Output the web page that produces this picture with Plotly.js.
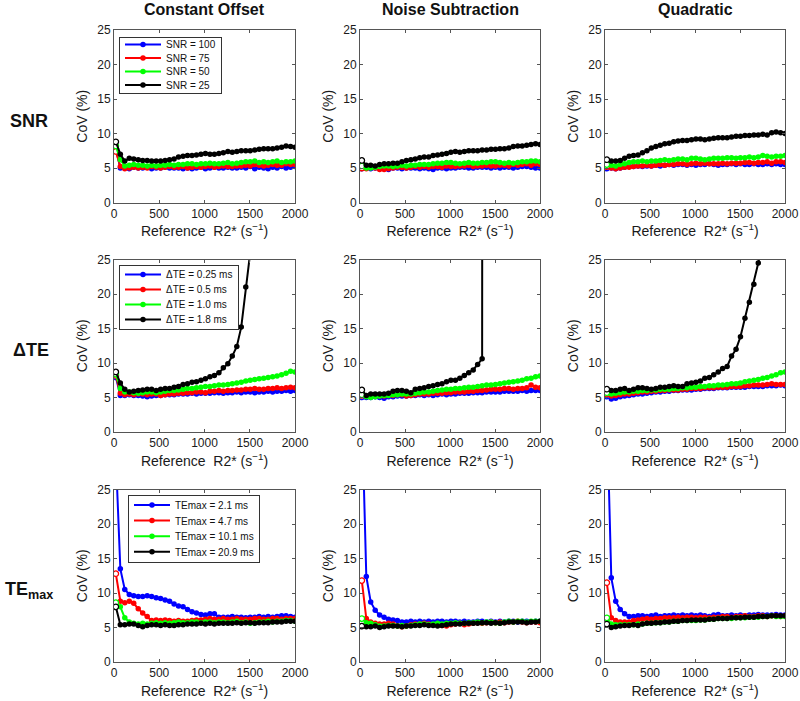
<!DOCTYPE html>
<html>
<head>
<meta charset="utf-8">
<script src="https://cdn.plot.ly/plotly-3.0.1.min.js"></script>
<style>html,body{margin:0;padding:0;background:#fff;}#chart{width:800px;height:701px;}</style>
</head>
<body>
<div id="chart"></div>
<script>
// Reference R2* sampling grid (s^-1)
const R2 = [20,70,119,169,218,268,317,367,416,466,515,565,614,664,713,763,812,862,911,961,1010,1060,1109,1159,1208,1258,1307,1357,1406,1456,1505,1555,1604,1654,1703,1753,1802,1852,1901,1951,2000];

const columnTitles = ['Constant Offset', 'Noise Subtraction', 'Quadratic'];
const rowLabels = ['SNR', '\u0394TE', 'TE<sub>max</sub>'];
const snrNames = ['SNR = 100', 'SNR = 75', 'SNR = 50', 'SNR = 25'];
const dteNames = ['\u0394TE = 0.25 ms', '\u0394TE = 0.5 ms', '\u0394TE = 1.0 ms', '\u0394TE = 1.8 ms'];
const teNames = ['TEmax = 2.1 ms', 'TEmax = 4.7 ms', 'TEmax = 10.1 ms', 'TEmax = 20.9 ms'];
const xTicks = [0, 500, 1000, 1500, 2000];
const yTicks = [0, 5, 10, 15, 20, 25];

// Row 1: SNR
const co_snr100 = [7.8,5.0,5.0,4.9,5.1,5.0,5.0,5.1,4.9,5.0, 5.0,5.1,5.0,5.0,5.0,4.9,5.0,4.9,5.0,5.1, 4.9,5.0,5.1,5.0,5.0,5.1,5.0,5.0,5.1,5.0, 5.2,4.9,5.1,5.0,4.9,5.1,5.0,5.2,5.0,5.1, 5.2];
const co_snr75 = [7.4,5.2,4.9,5.0,5.1,5.0,5.1,5.0,5.2,5.1, 5.0,5.1,5.2,5.1,5.1,5.2,5.0,5.1,5.2,5.1, 5.2,5.3,5.1,5.2,5.3,5.2,5.2,5.3,5.3,5.4, 5.3,5.5,5.4,5.3,5.4,5.5,5.4,5.4,5.6,5.5, 5.5];
const co_snr50 = [8.2,6.2,5.3,5.4,5.5,5.4,5.4,5.3,5.4,5.3, 5.4,5.4,5.5,5.4,5.5,5.5,5.6,5.6,5.5,5.6, 5.6,5.7,5.6,5.6,5.7,5.8,5.6,5.7,5.8,5.9, 5.9,6.0,5.8,5.9,5.8,5.9,6.0,5.8,5.9,5.9, 6.0];
const co_snr25 = [8.8,7.0,6.0,6.4,6.3,6.2,6.1,6.1,6.0,6.0, 6.0,6.1,6.2,6.3,6.6,6.7,6.8,6.8,6.9,7.0, 7.1,7.0,7.0,7.1,7.2,7.4,7.3,7.4,7.5,7.5, 7.5,7.6,7.7,7.8,7.8,7.8,7.9,8.0,8.2,8.1, 8.0];

const ns_snr100 = [5.0,5.0,4.9,5.0,5.0,4.9,4.8,5.0,5.0,4.9, 5.0,5.0,5.0,4.9,5.0,4.9,4.8,5.0,5.0,4.9, 5.0,5.0,5.1,5.1,5.0,5.0,5.1,5.1,5.1,5.0, 5.1,5.0,5.1,5.1,5.0,5.1,5.2,5.2,5.1,5.0, 5.0];
const ns_snr75 = [5.0,4.9,5.1,5.0,4.8,4.8,4.9,5.0,5.1,5.1, 5.0,5.1,5.2,5.1,5.2,5.1,5.2,5.2,5.1,5.3, 5.2,5.2,5.3,5.3,5.4,5.2,5.3,5.3,5.4,5.3, 5.3,5.4,5.4,5.3,5.5,5.4,5.5,5.6,5.4,5.6, 5.5];
const ns_snr50 = [5.3,5.0,5.0,5.1,5.2,5.3,5.3,5.2,5.3,5.4, 5.3,5.4,5.4,5.5,5.5,5.5,5.6,5.7,5.7,5.8, 5.8,5.7,5.6,5.7,5.8,5.7,5.7,5.8,5.8,5.9, 5.9,5.8,5.7,5.8,5.7,5.8,5.9,5.9,6.0,6.0, 5.9];
const ns_snr25 = [6.1,5.4,5.4,5.3,5.5,5.6,5.6,5.7,5.7,5.9, 6.1,6.2,6.3,6.5,6.6,6.6,6.8,6.9,7.0,7.1, 7.3,7.4,7.3,7.4,7.5,7.5,7.5,7.6,7.6,7.7, 7.7,7.8,7.8,7.9,8.1,8.2,8.2,8.3,8.4,8.5, 8.4];

const qd_snr100 = [5.0,5.0,4.9,5.0,5.1,5.2,5.2,5.3,5.2,5.3, 5.3,5.4,5.3,5.4,5.5,5.4,5.5,5.5,5.4,5.5, 5.4,5.5,5.5,5.6,5.5,5.4,5.5,5.5,5.6,5.5, 5.6,5.5,5.5,5.6,5.5,5.5,5.6,5.5,5.6,5.5, 5.5];
const qd_snr75 = [5.2,5.0,4.9,5.0,5.1,5.1,5.2,5.3,5.3,5.4, 5.3,5.4,5.5,5.4,5.5,5.5,5.6,5.6,5.5,5.6, 5.7,5.6,5.7,5.6,5.6,5.6,5.7,5.6,5.7,5.7, 5.7,5.8,5.8,5.7,5.8,5.8,5.9,5.7,5.9,5.9, 5.8];
const qd_snr50 = [5.5,5.4,5.3,5.5,5.6,5.8,5.9,5.9,6.0,5.9, 6.0,6.0,6.1,6.2,6.1,6.2,6.3,6.3,6.2,6.4, 6.4,6.3,6.2,6.3,6.4,6.4,6.4,6.5,6.5,6.4, 6.5,6.5,6.6,6.5,6.6,6.8,6.7,6.6,6.7,6.7, 6.8];
const qd_snr25 = [6.2,6.0,6.0,6.1,6.4,6.7,6.8,6.9,7.2,7.5, 7.9,8.1,8.3,8.5,8.6,8.8,8.9,9.0,9.0,9.1, 9.2,9.2,9.1,9.2,9.3,9.4,9.4,9.4,9.5,9.6, 9.6,9.7,9.7,9.8,9.8,9.9,9.8,10.1,10.2,10.1, 10.0];

// Row 2: delta TE
const co_dte025 = [8.0,5.3,5.3,5.4,5.3,5.3,5.2,5.1,5.2,5.3, 5.3,5.4,5.4,5.4,5.5,5.5,5.5,5.6,5.5,5.6, 5.6,5.6,5.7,5.7,5.6,5.7,5.7,5.8,5.7,5.8, 5.8,5.7,5.8,5.8,5.9,5.8,5.9,5.9,6.0,5.9, 6.0];
const co_dte05 = [8.2,5.6,5.4,5.5,5.4,5.5,5.5,5.4,5.5,5.5, 5.3,5.4,5.5,5.5,5.6,5.6,5.7,5.7,5.8,5.8, 5.7,5.9,5.9,6.0,5.9,6.0,6.0,6.1,6.1,6.2, 6.2,6.3,6.2,6.2,6.3,6.3,6.4,6.3,6.4,6.5, 6.4];
const co_dte10 = [8.4,6.3,5.8,5.8,5.7,5.6,5.7,5.8,5.8,5.7, 5.8,5.9,6.0,6.0,6.1,6.2,6.3,6.3,6.4,6.5, 6.6,6.6,6.7,6.8,6.8,6.9,7.0,7.1,7.2,7.4, 7.5,7.6,7.7,7.8,7.9,8.0,8.1,8.3,8.5,8.8, 8.7];
const co_dte18 = [8.7,7.1,6.2,5.8,5.9,6.0,6.1,6.2,6.2,6.0, 6.2,6.3,6.3,6.5,6.6,6.9,7.0,7.2,7.3,7.5, 7.7,8.0,8.2,8.6,9.3,9.9,11.0,12.4,15.2,21.0, 26.0,null,null,null,null,null,null,null,null,null, null];

const ns_dte025 = [5.1,5.0,5.0,5.1,5.0,4.9,5.1,5.1,5.2,5.2, 5.2,5.3,5.3,5.4,5.3,5.4,5.3,5.4,5.5,5.4, 5.5,5.5,5.6,5.6,5.6,5.7,5.7,5.7,5.8,5.8, 5.8,5.8,5.9,5.9,5.9,5.9,6.0,5.9,6.0,6.0, 6.0];
const ns_dte05 = [5.3,5.2,5.3,5.3,5.2,5.2,5.3,5.3,5.4,5.4, 5.2,5.3,5.4,5.5,5.5,5.5,5.6,5.6,5.6,5.7, 5.7,5.8,5.8,5.8,5.9,5.9,6.0,6.0,6.1,6.2, 6.2,6.2,6.3,6.3,6.2,6.3,6.3,6.4,6.8,6.5, 6.4];
const ns_dte10 = [5.4,5.1,5.0,5.1,5.2,5.3,5.3,5.4,5.4,5.5, 5.5,5.5,5.6,5.7,5.8,5.8,5.9,6.0,6.1,6.2, 6.2,6.3,6.3,6.4,6.5,6.5,6.6,6.7,6.8,6.8, 6.9,7.0,7.1,7.2,7.3,7.4,7.5,7.7,7.8,8.0, 8.1];
const ns_dte18 = [6.1,5.3,5.5,5.5,5.5,5.5,5.6,5.9,6.0,6.0, 5.9,5.7,6.2,6.3,6.4,6.6,6.7,6.9,7.0,7.3, 7.5,7.5,7.8,8.2,8.6,9.0,9.8,10.6,1000,null, null,null,null,null,null,null,null,null,null,null, null];

const qd_dte025 = [5.2,4.8,4.9,5.1,5.2,5.3,5.4,5.5,5.5,5.6, 5.7,5.8,5.8,5.9,5.9,6.0,6.0,6.1,6.1,6.1, 6.2,6.2,6.3,6.3,6.3,6.4,6.4,6.4,6.5,6.5, 6.5,6.5,6.6,6.6,6.6,6.6,6.7,6.7,6.7,6.8, 6.7];
const qd_dte05 = [5.5,5.2,5.3,5.4,5.5,5.5,5.6,5.7,5.8,5.8, 5.9,5.9,6.0,6.0,6.1,6.1,6.1,6.2,6.2,6.3, 6.3,6.3,6.4,6.4,6.4,6.5,6.5,6.5,6.6,6.6, 6.6,6.7,6.7,6.8,6.8,6.8,6.9,7.0,6.9,6.9, 6.9];
const qd_dte10 = [5.7,5.5,5.6,5.7,5.8,5.8,5.9,5.9,6.0,6.0, 6.1,6.1,6.2,6.2,6.2,6.3,6.3,6.4,6.4,6.5, 6.5,6.6,6.6,6.7,6.7,6.8,6.8,6.9,7.0,7.0, 7.1,7.3,7.4,7.5,7.6,7.8,7.9,8.1,8.3,8.6, 8.7];
const qd_dte18 = [6.2,6.0,6.0,6.2,6.3,6.0,6.2,6.4,6.4,6.3, 6.2,6.3,6.5,6.5,6.6,6.7,6.6,6.6,7.0,7.1, 7.2,7.4,7.8,7.9,8.3,8.7,9.2,9.5,11.0,12.0, 13.8,16.5,18.8,21.4,24.5,28.0,null,null,null,null, null];

// Row 3: TEmax
const co_te21 = [30,13.5,10.5,9.8,9.6,9.5,9.5,9.6,9.5,9.3, 9.2,9.0,8.8,8.4,8.1,8.0,7.6,7.3,7.1,6.9, 6.8,7.0,7.0,6.5,6.5,6.5,6.6,6.5,6.5,6.4, 6.5,6.5,6.6,6.5,6.6,6.5,6.6,6.7,6.7,6.6, 6.5];
const co_te47 = [12.8,8.8,8.6,8.8,8.5,7.7,7.1,6.6,6.0,6.1, 6.0,6.1,6.0,5.9,6.0,5.9,5.9,6.0,6.1,6.1, 6.2,6.3,6.2,6.2,6.3,6.2,6.2,6.3,6.2,6.2, 6.2,6.3,6.3,6.2,6.2,6.3,6.3,6.2,6.3,6.3, 6.3];
const co_te101 = [8.6,8.0,6.4,5.8,5.6,5.5,5.6,5.5,5.6,5.7, 5.6,5.7,5.6,5.7,5.8,5.7,5.7,5.8,5.8,5.7, 5.8,5.8,5.7,5.8,5.8,5.7,5.8,5.9,5.7,5.8, 5.6,5.7,5.8,5.8,5.9,5.8,5.9,5.9,6.0,6.0, 5.9];
const co_te209 = [8.0,5.4,5.4,5.5,5.5,5.3,5.1,5.3,5.4,5.4, 5.3,5.4,5.3,5.3,5.4,5.4,5.5,5.5,5.5,5.6, 5.5,5.6,5.5,5.6,5.6,5.6,5.6,5.7,5.6,5.7, 5.7,5.6,5.7,5.7,5.7,5.8,5.8,5.8,5.9,5.9, 5.9];

const ns_te21 = [37,12.4,8.7,7.5,6.8,6.5,6.2,6.1,6.0,5.8, 5.8,5.9,5.8,5.9,5.8,5.9,5.8,5.9,5.9,5.8, 5.9,5.9,5.8,5.9,5.8,5.8,5.9,5.9,5.8,5.9, 5.8,5.9,5.8,5.9,5.9,5.8,5.9,5.9,5.8,5.9, 5.9];
const ns_te47 = [11.8,6.3,5.8,5.6,5.5,5.5,5.6,5.5,5.2,5.1, 5.2,5.4,5.5,5.5,5.6,5.5,5.4,5.5,5.3,5.2, 5.4,5.5,5.6,5.4,5.5,5.6,5.7,5.6,5.7,5.8, 5.7,5.8,5.7,5.8,5.8,5.9,5.8,5.7,5.8,5.8, 5.7];
const ns_te101 = [6.3,5.7,5.6,5.4,5.2,5.2,5.3,5.3,5.2,5.3, 5.2,5.3,5.4,5.5,5.5,5.4,5.5,5.6,5.5,5.6, 5.6,5.7,5.6,5.6,5.7,5.7,5.8,5.7,5.8,5.8, 5.7,5.6,5.8,5.9,5.8,5.9,5.9,5.8,5.9,5.9, 5.9];
const ns_te209 = [5.2,5.1,5.1,5.2,5.0,5.1,5.2,5.2,5.2,5.1, 5.2,5.2,5.3,5.3,5.4,5.3,5.3,5.2,5.3,5.4, 5.5,5.5,5.5,5.6,5.6,5.6,5.6,5.7,5.7,5.6, 5.7,5.6,5.7,5.8,5.8,5.8,5.8,5.7,5.8,5.8, 5.9];

const qd_te21 = [37,12.2,8.8,7.6,7.0,6.6,6.6,6.7,6.7,6.6, 6.7,6.8,6.6,6.7,6.7,6.8,6.7,6.8,6.7,6.8, 6.7,6.8,6.7,6.6,6.8,6.9,6.7,6.7,6.8,6.7, 6.8,6.7,6.8,6.8,6.9,6.8,6.8,6.8,6.9,6.8, 6.8];
const qd_te47 = [11.5,6.4,6.0,5.8,5.8,5.8,6.0,6.1,6.2,6.3, 6.2,6.3,6.3,6.4,6.4,6.4,6.5,6.4,6.5,6.5, 6.4,6.5,6.5,6.4,6.5,6.5,6.6,6.6,6.5,6.6, 6.6,6.7,6.6,6.6,6.7,6.7,6.6,6.7,6.7,6.6, 6.7];
const qd_te101 = [6.4,5.5,5.4,5.4,5.4,5.4,5.4,5.5,5.5,5.6, 5.6,5.7,5.7,5.8,5.8,5.9,5.9,6.0,6.0,6.0, 6.0,6.1,6.1,6.2,6.2,6.3,6.3,6.3,6.3,6.4, 6.4,6.4,6.5,6.5,6.5,6.6,6.6,6.7,6.6,6.6, 6.6];
const qd_te209 = [5.5,5.0,5.1,5.2,5.3,5.3,5.4,5.3,5.5,5.6, 5.6,5.7,5.7,5.8,5.8,5.9,5.9,6.0,6.0,6.1, 6.1,6.1,6.1,6.2,6.2,6.3,6.3,6.3,6.4,6.4, 6.4,6.5,6.5,6.5,6.6,6.6,6.6,6.7,6.7,6.7, 6.7];

const seriesColors = ['#0000ff', '#ff0000', '#00ff00', '#000000'];

const panels = [
  [[co_snr100, co_snr75, co_snr50, co_snr25], [ns_snr100, ns_snr75, ns_snr50, ns_snr25], [qd_snr100, qd_snr75, qd_snr50, qd_snr25]],
  [[co_dte025, co_dte05, co_dte10, co_dte18], [ns_dte025, ns_dte05, ns_dte10, ns_dte18], [qd_dte025, qd_dte05, qd_dte10, qd_dte18]],
  [[co_te21, co_te47, co_te101, co_te209], [ns_te21, ns_te47, ns_te101, ns_te209], [qd_te21, qd_te47, qd_te101, qd_te209]]
];
const rowNames = [snrNames, dteNames, teNames];

// Layout geometry (pixels in the 800x701 page)
const W = 800, H = 701;
const colPx = [[114, 295], [360, 540], [605, 785]];
const rowPx = [[30, 202.5], [259.5, 432], [489.5, 662]];
const legendPx = [[119, 37], [119, 265], [128, 495]];
// legend inner padding and entry spacing (px) per row
const legendPad = [7.5, 9.5, 10];
const legendStep = [13.5, 15, 15.6];

const FONT = 'Liberation Sans, Arial, Helvetica, sans-serif';
const traces = [];
const layout = {
  width: W, height: H,
  margin: {l: 0, r: 0, t: 0, b: 0},
  paper_bgcolor: '#ffffff', plot_bgcolor: '#ffffff',
  font: {family: FONT, color: '#1a1a1a'},
  annotations: []
};
const legIds = ['legend', 'legend2', 'legend3'];

for (let r = 0; r < 3; r++) {
  const legId = legIds[r];
  layout[legId] = {
    x: legendPx[r][0] / W, y: 1 - legendPx[r][1] / H,
    xanchor: 'left', yanchor: 'top',
    bgcolor: '#ffffff', bordercolor: '#333333', borderwidth: 1,
    font: {family: FONT, size: 10, color: '#111'},
    itemwidth: 36,
    tracegroupgap: 0
  };
  for (let c = 0; c < 3; c++) {
    const p = r * 3 + c;
    const sfx = p === 0 ? '' : String(p + 1);
    const xa = 'x' + sfx, ya = 'y' + sfx;
    panels[r][c].forEach((vals, k) => {
      traces.push({
        type: 'scatter', mode: 'lines+markers',
        x: R2, y: vals, xaxis: xa, yaxis: ya,
        name: rowNames[r][k], legend: legId, showlegend: c === 0,
        connectgaps: false,
        line: {color: seriesColors[k], width: 2},
        marker: {color: seriesColors[k], size: 5.5, symbol: 'circle'},
        hoverinfo: 'x+y'
      });
      // first sample drawn as an open circle
      traces.push({
        type: 'scatter', mode: 'markers',
        x: R2.slice(0, 1), y: vals.slice(0, 1), xaxis: xa, yaxis: ya,
        showlegend: false, hoverinfo: 'skip',
        marker: {color: '#ffffff', size: 5.5, symbol: 'circle',
                 line: {color: seriesColors[k], width: 1.3}}
      });
    });
    const axCommon = {
      showgrid: false, zeroline: false, showline: true, mirror: 'ticks',
      linecolor: '#555', linewidth: 1, ticks: 'inside', ticklen: 3,
      tickcolor: '#555', tickfont: {family: FONT, size: 12, color: '#1a1a1a'}
    };
    layout['xaxis' + sfx] = Object.assign({}, axCommon, {
      domain: [colPx[c][0] / W, colPx[c][1] / W],
      anchor: ya, range: [0, 2000], tickvals: xTicks, ticktext: xTicks.map(String),
      title: {text: 'Reference\u00a0\u00a0R2* (s<sup>\u22121</sup>)', font: {family: FONT, size: 14, color: '#1a1a1a'}, standoff: 6}
    });
    layout['yaxis' + sfx] = Object.assign({}, axCommon, {
      domain: [1 - rowPx[r][1] / H, 1 - rowPx[r][0] / H],
      anchor: xa, range: [0, 25], tickvals: yTicks, ticktext: yTicks.map(String),
      title: {text: 'CoV (%)', font: {family: FONT, size: 14, color: '#1a1a1a'}, standoff: 6}
    });
  }
}

// Column titles
columnTitles.forEach((t, c) => {
  layout.annotations.push({
    text: '<b>' + t + '</b>', xref: 'paper', yref: 'paper',
    x: (colPx[c][0] + colPx[c][1]) / 2 / W, y: 1 - 9 / H,
    xanchor: 'center', yanchor: 'middle', showarrow: false,
    font: {family: FONT, size: 16, color: '#111'}
  });
});
// Row labels
const rowLabelPos = [[29, 121], [31, 350], [29, 590]];
rowLabels.forEach((t, r) => {
  layout.annotations.push({
    text: '<b>' + t + '</b>', xref: 'paper', yref: 'paper',
    x: rowLabelPos[r][0] / W, y: 1 - rowLabelPos[r][1] / H,
    xanchor: 'center', yanchor: 'middle', showarrow: false,
    font: {family: FONT, size: 18, color: '#111'}
  });
});

Plotly.newPlot('chart', traces, layout, {displayModeBar: false, staticPlot: true}).then(gd => {
  // tighten legend entry spacing to match the compact MATLAB-style legends
  legIds.forEach((id, r) => {
    const g = gd.querySelector('g.' + id);
    if (!g) return;
    const items = g.querySelectorAll('g.traces');
    items.forEach((it, i) => {
      const m = /translate\(\s*([-\d.]+)[ ,]+([-\d.]+)\s*\)/.exec(it.getAttribute('transform') || '');
      const tx = m ? parseFloat(m[1]) : 0;
      it.setAttribute('transform', 'translate(' + tx + ',' + (legendPad[r] + i * legendStep[r]) + ')');
    });
    const bg = g.querySelector('rect.bg');
    if (bg) bg.setAttribute('height', 2 * legendPad[r] + (items.length - 1) * legendStep[r]);
  });
});
</script>
</body>
</html>
